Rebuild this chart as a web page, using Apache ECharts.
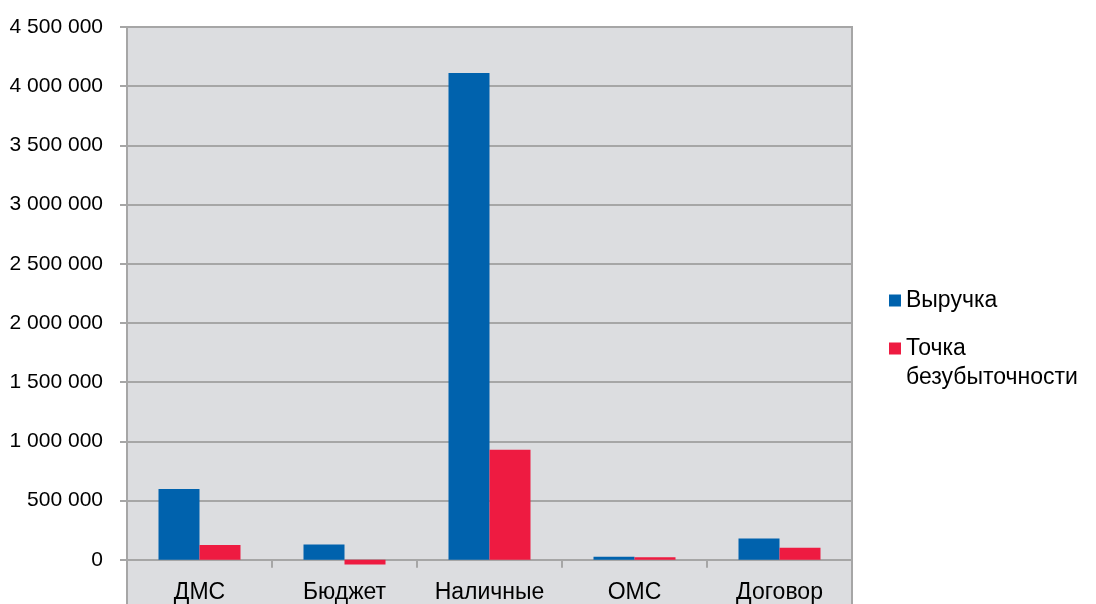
<!DOCTYPE html>
<html><head><meta charset="utf-8">
<script src="https://cdn.jsdelivr.net/npm/echarts@6/dist/echarts.min.js"></script>
<style>html,body{margin:0;padding:0;background:#fff}#c{width:1096px;height:604px}</style>
</head><body><div id="c"></div>
<script>
const categories = ['ДМС', 'Бюджет', 'Наличные', 'ОМС', 'Договор'];
const seriesNames = ['Выручка', 'Точка безубыточности'];
const revenue = [597000, 129000, 4112000, 25000, 180000];
const breakEven = [124000, -40000, 929000, 22000, 101000];

const fmt = v => String(v).replace(/\B(?=(\d{3})+(?!\d))/g, ' ');
const font = '"Liberation Sans", Arial, sans-serif';
const chart = echarts.init(document.getElementById('c'));
chart.setOption({
  animation: false,
  textStyle: { fontFamily: font },
  grid: { left: 127, top: 27, width: 725, height: 592, outerBoundsMode: 'none', containLabel: false, show: true, backgroundColor: '#dcdde0', borderColor: '#a6a6a6', borderWidth: 2 },
  legend: {
    orient: 'vertical', left: 884, top: 281, itemWidth: 12, itemHeight: 12, itemGap: -10,
    icon: 'rect',
    textStyle: { fontFamily: font, fontSize: 23, color: '#000', lineHeight: 29 },
    formatter: n => n === 'Точка безубыточности' ? '\nТочка\nбезубыточности' : n,
    data: seriesNames
  },
  xAxis: {
    type: 'category', data: categories,
    axisLine: { onZero: true, lineStyle: { color: '#a6a6a6', width: 2 } },
    axisTick: { show: true, length: 8, lineStyle: { color: '#a6a6a6', width: 2 } },
    axisLabel: { fontSize: 23, color: '#000', margin: -38, fontFamily: font }
  },
  yAxis: {
    type: 'value', min: -500000, max: 4500000, interval: 500000,
    axisLine: { show: true, lineStyle: { color: '#a6a6a6', width: 2 } },
    axisTick: { show: true, length: 7, lineStyle: { color: '#a6a6a6', width: 2 } },
    splitLine: { lineStyle: { color: '#a6a6a6', width: 2 } },
    axisLabel: { fontSize: 21, color: '#000', margin: 24, fontFamily: font, formatter: v => v < 0 ? '' : fmt(v) }
  },
  series: [
    { name: seriesNames[0], type: 'bar', data: revenue, barWidth: 41, barGap: '0%', itemStyle: { color: '#0062ad' } },
    { name: seriesNames[1], type: 'bar', data: breakEven, barWidth: 41, barGap: '0%', itemStyle: { color: '#ee1b41' } }
  ]
});
</script></body></html>
